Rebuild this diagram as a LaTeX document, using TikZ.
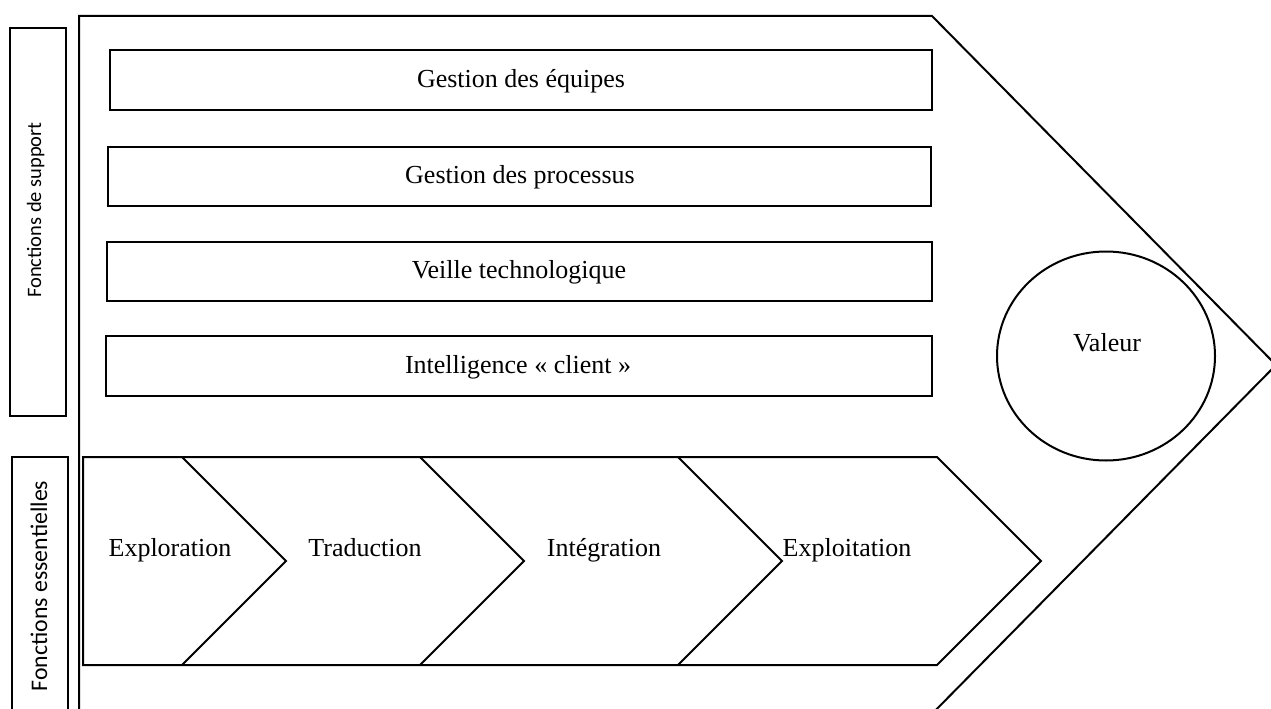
\documentclass[tikz,border=0pt]{standalone}
\usepackage{fontspec}
\setmainfont{Liberation Serif}
\newfontfamily\labelsans{Carlito}
\begin{document}
\begin{tikzpicture}[x=1pt,y=-1pt,
  ln/.style={line width=2pt, line join=miter},
  bx/.style={draw, line width=2.4pt},
  serif/.style={font=\fontsize{26}{30}\selectfont, inner sep=0pt, anchor=base},
  vlab/.style={font=\labelsans\fontsize{#1}{24}\selectfont, rotate=90, inner sep=0pt, anchor=base}]
\useasboundingbox (0,0) rectangle (1271,709);
\clip (0,0) rectangle (1271,709);
% side label boxes
\draw[bx] (10,28) rectangle (66,416);
\node[vlab=20.5] (lsup) at (41,210) {Fonctions de support};
\draw[bx] (12,457) rectangle (68,720);
\node[vlab=23.8] (less) at (47,586) {Fonctions essentielles};
% outer value chain shape
\draw[ln] (79,720) -- (79,16) -- (932,16) -- (1276,365) -- (922,724);
% support rectangles
\draw[bx] (110,50) rectangle (932,110);
\node[serif] (r1) at (521,87) {Gestion des équipes};
\draw[bx] (108,147) rectangle (931,206);
\node[serif] (r2) at (520,183.5) {Gestion des processus};
\draw[bx] (107,242) rectangle (932,301);
\node[serif] (r3) at (519,278.5) {Veille technologique};
\draw[bx] (106,336) rectangle (932,396);
\node[serif] (r4) at (518,373) {Intelligence « client »};
% value circle
\draw[line width=2pt] (1106,356) ellipse [x radius=109, y radius=104.5];
\node[serif] (val) at (1107,351) {Valeur};
% chevrons
\draw[ln] (83,457) -- (937,457) -- (1041,561) -- (937,665) -- (83,665) -- cycle;
\draw[ln] (182,457) -- (286,561) -- (182,665);
\draw[ln] (420,457) -- (524,561) -- (420,665);
\draw[ln] (678,457) -- (782,561) -- (678,665);
\node[serif] (c1) at (170,556) {Exploration};
\node[serif] (c2) at (365,556) {Traduction};
\node[serif] (c3) at (604,556) {Intégration};
\node[serif] (c4) at (847,556) {Exploitation};
\end{tikzpicture}
\end{document}
